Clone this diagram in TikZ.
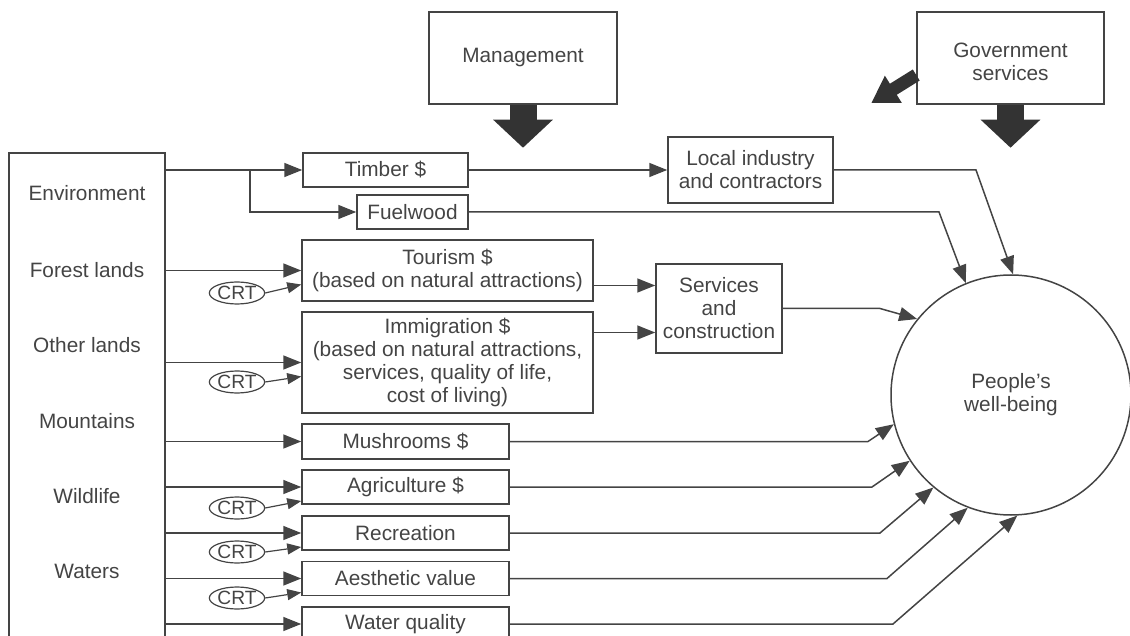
\documentclass[tikz,border=0pt]{standalone}
\usepackage{fontspec}
\setmainfont{Liberation Sans}
\usetikzlibrary{arrows.meta,shapes.geometric,calc}
\definecolor{ink}{HTML}{444444}
\definecolor{blk}{HTML}{333333}
\tikzset{
  box/.style={draw=ink, line width=0.75pt, text=ink, align=center, inner sep=0pt},
  crt/.style={draw=ink, ellipse, line width=0.6pt, text=ink, inner sep=0pt,
    font=\fontsize{9.6}{10}\selectfont, minimum width=26pt, minimum height=11pt},
  lbl/.style={text=ink, align=center},
  arr/.style={draw=ink, line width=0.75pt, -{Triangle[length=9pt,width=7pt]}},
  crtarr/.style={draw=ink, line width=0.6pt, -{Triangle[length=7pt,width=5.5pt]}},
  fat/.style={draw=blk, line width=13.5pt, -{Triangle[length=14pt,width=29pt]}},
  fatslim/.style={draw=blk, line width=6.5pt, -{Triangle[length=13pt,width=15pt]}},
}
\begin{document}
\begin{tikzpicture}[x=0.5pt,y=-0.5pt,font=\fontsize{10.4}{11.5}\selectfont]
\useasboundingbox (0,0) rectangle (1130,636);
% top boxes
\node[box, minimum width=94pt, minimum height=46pt] (mgmt) at (523,58) {Management};
\node[box, minimum width=93.5pt, minimum height=46pt] (gov) at (1010.5,58) {};
\node[lbl] (govtxt) at (1010.5,62) {Government\\services};
\draw[fat] (mgmt.south) -- ++(0,43);
\draw[fat] (gov.south) -- ++(0,43);
\draw[fatslim] ($(gov.west)+(0,17)$) -- ++(-45,28);
% resources
\node[box, minimum width=78pt, minimum height=253.5pt] (env) at (87,406.5) {};
\node[lbl] (lenv) at (87,193) {Environment};
\node[lbl] (lfor) at (87,270) {Forest lands};
\node[lbl] (loth) at (87,345) {Other lands};
\node[lbl] (lmnt) at (87,421) {Mountains};
\node[lbl] (lwild) at (87,496) {Wildlife};
\node[lbl] (lwat) at (87,571) {Waters};
% products
\node[box, minimum width=82.5pt, minimum height=17pt] (timber) at (385.5,170) {Timber \$};
\node[box, minimum width=55.5pt, minimum height=17pt] (fuel) at (412.5,212) {Fuelwood};
\node[box, minimum width=82.5pt, minimum height=33pt] (local) at (750.5,170) {Local industry\\and contractors};
\node[box, minimum width=145.5pt, minimum height=30.5pt] (tour) at (447.5,270.5) {Tourism \$\\(based on natural attractions)};
\node[box, minimum width=145.5pt, minimum height=50.5pt] (immig) at (447.5,362.5) {Immigration \$\\(based on natural attractions,\\services, quality of life,\\cost of living)};
\node[box, minimum width=63pt, minimum height=44.5pt] (serv) at (719,308.5) {Services\\and\\construction};
\node[box, minimum width=103.5pt, minimum height=17.5pt] (mush) at (405.5,441.5) {Mushrooms \$};
\node[box, minimum width=103.5pt, minimum height=17pt] (agri) at (405.5,487) {Agriculture \$};
\node[box, minimum width=103.5pt, minimum height=17pt] (recr) at (405.5,533) {Recreation};
\node[box, minimum width=103.5pt, minimum height=17pt] (aest) at (405.5,578.5) {Aesthetic value};
\node[box, minimum width=103.5pt, minimum height=17pt] (water) at (405.5,624) {Water quality};
\node[box, circle, minimum size=120pt] (well) at (1011,395) {People’s\\well-being};
% CRT
\node[crt] (crt1) at (237,293) {CRT};
\node[crt] (crt2) at (237,382) {CRT};
\node[crt] (crt3) at (237,508) {CRT};
\node[crt] (crt4) at (237,552) {CRT};
\node[crt] (crt5) at (237,598) {CRT};
% from resources
\coordinate (split) at (250,170);
\draw[arr] (timber.west -| env.east) -- (timber.west);
\draw[arr] (split) |- (fuel.west);
\draw[arr] (tour.west -| env.east) -- (tour.west);
\draw[arr] (immig.west -| env.east) -- (immig.west);
\draw[arr] (mush.west -| env.east) -- (mush.west);
\draw[arr] (agri.west -| env.east) -- (agri.west);
\draw[arr] (recr.west -| env.east) -- (recr.west);
\draw[arr] (aest.west -| env.east) -- (aest.west);
\draw[arr] (water.west -| env.east) -- (water.west);
\draw[crtarr] (crt1.east) -- ([yshift=-7pt]tour.west);
\draw[crtarr] (crt2.east) -- ([yshift=-7pt]immig.west);
\draw[crtarr] (crt3.east) -- ([yshift=-7pt]agri.west);
\draw[crtarr] (crt4.east) -- ([yshift=-7pt]recr.west);
\draw[crtarr] (crt5.east) -- ([yshift=-7pt]aest.west);
% middle
\draw[arr] (timber.east) -- (local.west);
\draw[arr] ([yshift=-7.5pt]tour.east) -- ([yshift=-7.5pt]tour.east -| serv.west);
\draw[arr] ([yshift=15pt]immig.east) -- ([yshift=15pt]immig.east -| serv.west);
% to well-being
\draw[arr] (local.east) -- (976,170) -- (well.89);
\draw[arr] (fuel.east) -- (939,212) -- (well.112);
\draw[arr] (serv.east) -- (880,308.5) -- (well.141);
\draw[arr] (mush.east) -- (868,441.5) -- (well.194);
\draw[arr] (agri.east) -- (872,487) -- (well.213);
\draw[arr] (recr.east) -- (880,533) -- (well.230);
\draw[arr] (aest.east) -- (887,578.5) -- (well.249);
\draw[arr] (water.east) -- (893,624) -- (well.273);
\end{tikzpicture}
\end{document}
